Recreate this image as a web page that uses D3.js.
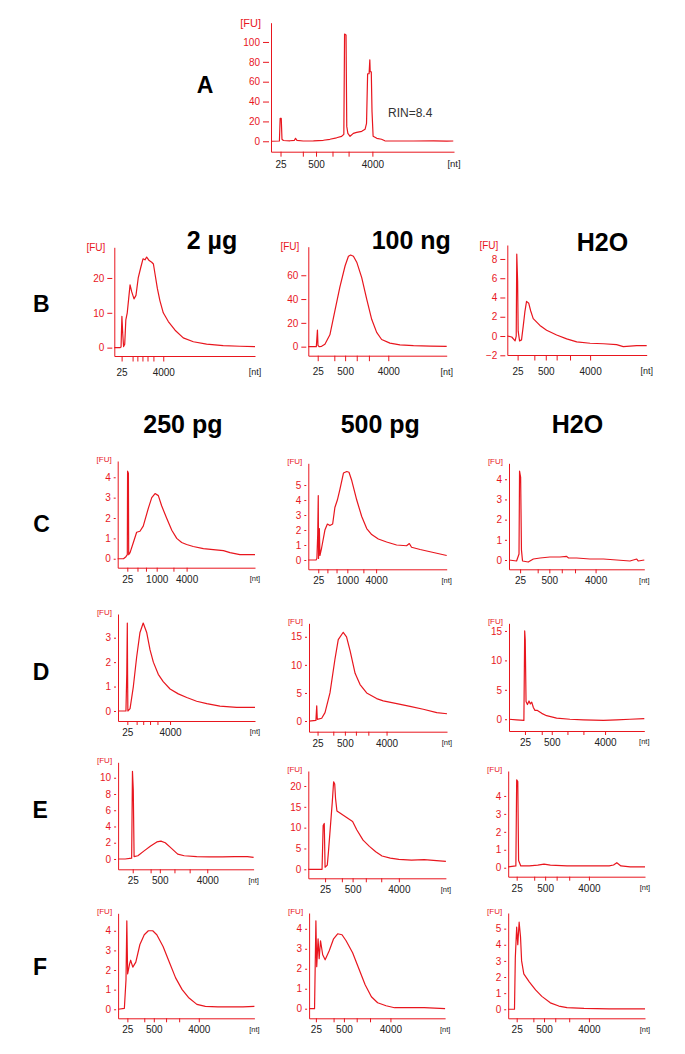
<!DOCTYPE html>
<html>
<head>
<meta charset="utf-8">
<script src="https://cdn.jsdelivr.net/npm/d3@7"></script>
<style>
  body { margin: 0; background: #fff; }
  svg text { font-family: "Liberation Sans", Arial, sans-serif; }
</style>
</head>
<body>
<svg id="figure"></svg>
<script>
// migration time window of every electropherogram (s)
const runTime = [19, 69];

// ladder tick labels (nt)
const labels500 = ["25", "", "500", "", "", "4000"];
const labels1000 = ["25", "", "", "1000", "", "4000"];
const labelsEnds = ["25", "", "", "", "", "4000"];
const labelsEnds7 = ["25", "", "", "", "", "", "4000"];

// ---- A : total RNA
const ladderA = [21.6, 27.7, 31.3, 35.8, 40.2, 46.7];
const fuTicksA = [0, 20, 40, 60, 80, 100];
const fuRangeA = [-10.5, 119.4];
const traceA = [[19.2,0],[21.3,0.3],[21.5,23],[21.8,23],[22.0,2],[22.4,0.8],[24.2,0.5],[25.4,1],[25.7,3],[26.1,1],[27.8,0.3],[30.6,0.5],[33.3,1],[35.1,2],[36.9,3.5],[38.3,5],[38.9,7],[39.1,108],[39.5,107],[39.7,15],[40.0,8],[40.6,5],[41.5,8],[42.4,9],[43.8,10],[44.7,12],[45.1,18],[45.4,68],[45.8,68],[46.0,82],[46.1,70],[46.4,70],[46.6,30],[46.9,5],[47.9,3],[49.2,2],[50.1,0.5],[57.9,0.3],[63.4,0.5],[67.0,0.2],[68.8,0.3]];

// ---- B : 2 µg / 100 ng / H2O
const ladderB1 = [21.6, 25.5, 27.2, 29.0, 30.8, 32.9, 36.4];
const fuTicksB1 = [0, 10, 20];
const fuRangeB1 = [-2.4, 28.8];
const traceB1 = [[19.0,0],[21.0,0],[21.4,0.2],[21.7,9],[22.0,4],[22.3,0.3],[22.7,1],[23.1,8],[23.6,10],[24.1,14],[24.6,18],[25.2,16],[26.0,14],[26.7,15],[27.5,20],[28.4,23],[29.2,25.5],[29.9,25.2],[30.5,26],[31.4,25],[32.3,24.5],[32.9,24],[33.5,21],[34.3,17],[35.2,13.5],[36.4,10],[38.2,7.5],[40.6,5],[43.5,2.8],[47.1,1.7],[51.8,1.0],[57.7,0.6],[63.7,0.4],[69.0,0.3]];

const ladderB2 = [22.4, 28.4, 32.3, 36.5, 40.9, 47.9];
const fuTicksB2 = [0, 20, 40, 60];
const fuRangeB2 = [-7.6, 84];
const traceB2 = [[19.0,0],[21.9,0],[22.3,14],[22.5,1],[22.9,0],[23.8,0.3],[25.0,2],[26.8,10],[28.6,30],[30.4,50],[32.3,68],[33.5,76],[34.3,77],[35.3,76],[36.5,71],[38.3,58],[40.1,40],[41.9,23],[43.7,12],[45.5,6],[48.5,3],[52.1,1.5],[57.0,0.8],[63.0,0.4],[69.0,0.3]];

const ladderB3 = [22.7, 28.7, 32.8, 36.7, 41.5, 48.7];
const fuTicksB3 = [-2, 0, 2, 4, 6, 8];
const fuRangeB3 = [-1.97, 9.45];
const traceB3 = [[19.0,0],[20.6,-0.1],[21.8,-0.5],[22.2,0],[22.4,8.5],[22.7,5.7],[22.9,0.5],[23.4,-0.5],[24.1,-0.4],[24.7,1],[25.3,2.5],[25.9,3.6],[26.7,3.4],[27.4,2.6],[28.3,1.8],[30.7,1.1],[33.1,0.6],[36.7,0.1],[40.3,-0.3],[43.9,-0.6],[48.7,-0.75],[53.5,-0.8],[58.2,-0.9],[60.6,-1.1],[65.4,-1.0],[69.0,-1.0]];

// ---- C : 250 pg / 500 pg / H2O
const ladderC1 = [22.5, 26.2, 29.3, 33.2, 39.3, 44.1];
const fuTicksC1 = [0, 1, 2, 3, 4];
const fuRangeC1 = [-0.44, 4.8];
const traceC1 = [[19.0,0],[21.1,0],[22.0,0.1],[22.5,0.2],[22.6,4.3],[22.9,4.2],[23.0,0.2],[23.5,0.3],[24.7,0.8],[25.9,1.3],[27.1,1.35],[28.3,1.6],[30.2,2.5],[31.4,3.0],[32.6,3.2],[33.8,3.1],[35.0,2.6],[36.8,2.0],[38.7,1.4],[40.5,1.0],[42.3,0.8],[44.1,0.7],[46.5,0.6],[50.2,0.5],[53.8,0.45],[57.5,0.4],[59.9,0.3],[63.5,0.2],[69.0,0.2]];

const ladderC2 = [22.6, 25.9, 29.2, 33.1, 38.9, 43.5];
const fuTicksC2 = [0, 1, 2, 3, 4, 5];
const fuRangeC2 = [-0.62, 6.45];
const traceC2 = [[19.0,0],[21.8,0],[22.1,0.1],[22.4,1.7],[22.6,4.3],[22.7,0.1],[23.0,2.1],[23.2,0.3],[23.8,0.8],[25.0,2.0],[25.9,2.4],[26.8,2.3],[27.8,2.4],[28.6,3.5],[29.5,4.0],[30.4,4.7],[31.7,5.8],[32.9,5.9],[33.7,5.85],[34.7,5.3],[36.5,4.0],[38.3,2.9],[40.1,2.1],[41.9,1.7],[44.3,1.4],[47.3,1.2],[50.9,1.0],[54.5,0.95],[55.5,1.1],[56.3,0.85],[59.4,0.7],[63.0,0.55],[65.4,0.45],[69.0,0.3]];

const ladderC3 = [23.1, 29.6, 33.9, 38.5, 43.4, 51.0];
const fuTicksC3 = [0, 1, 2, 3, 4];
const fuRangeC3 = [-0.46, 4.79];
const traceC3 = [[19.0,0],[21.8,-0.05],[22.7,0.3],[22.9,4.4],[23.3,4.1],[23.6,0.5],[24.0,-0.05],[26.1,-0.1],[28.0,0.05],[30.5,0.1],[34.1,0.15],[37.8,0.15],[40.3,0.18],[41.0,0.1],[44.0,0.1],[48.9,0.05],[53.9,0.05],[58.8,0.0],[63.7,-0.05],[66.2,0.05],[66.8,-0.05],[69.0,0.0]];

// ---- D
const ladderD1 = [22.4, 25.8, 28.2, 30.7, 33.4, 38.0];
const fuTicksD1 = [0, 1, 2, 3];
const fuRangeD1 = [-0.41, 3.97];
const traceD1 = [[19.0,0],[21.9,0],[22.2,1.5],[22.4,3.6],[22.5,1.5],[22.6,0],[23.4,0.1],[24.6,1.0],[25.8,2.2],[27.0,3.2],[28.2,3.6],[29.5,3.2],[30.7,2.5],[31.9,2.0],[33.7,1.5],[35.5,1.2],[38.0,0.9],[41.0,0.7],[44.1,0.55],[47.7,0.4],[51.4,0.3],[56.2,0.2],[62.3,0.15],[69.0,0.15]];

const ladderD2 = [22.1, 27.8, 32.0, 36.0, 40.5, 47.1];
const fuTicksD2 = [0, 5, 10, 15];
const fuRangeD2 = [-1.9, 17.4];
const traceD2 = [[19.0,0],[21.5,0.1],[21.8,2.7],[22.0,0.3],[23.6,0.5],[24.8,1.5],[26.6,5],[28.4,11],[29.6,14.5],[31.4,15.8],[32.6,15],[33.9,12.5],[35.7,8.5],[37.5,6.5],[39.9,5.0],[43.5,4.0],[45.9,3.6],[50.8,3.1],[55.6,2.6],[60.4,2.1],[65.3,1.5],[69.0,1.3]];

const ladderD3 = [24.9, 31.1, 34.8, 40.6, 46.5, 54.5];
const fuTicksD3 = [0, 5, 10, 15];
const fuRangeD3 = [-2.0, 16.3];
const traceD3 = [[19.0,0],[21.8,-0.1],[24.5,-0.2],[24.8,15],[25.0,13.5],[25.3,3],[25.8,2.5],[26.4,3.1],[26.9,2.6],[27.4,2.9],[28.0,2.0],[28.6,1.5],[29.5,1.5],[31.1,1.0],[32.9,0.6],[36.6,0.2],[41.5,0.0],[46.5,-0.1],[53.9,-0.2],[58.8,-0.1],[63.7,0.0],[69.0,0.1]];

// ---- E
const ladderE1 = [24.4, 31.0, 34.4, 39.8, 45.4, 51.9];
const fuTicksE1 = [0, 2, 4, 6, 8, 10];
const fuRangeE1 = [-1.27, 11.9];
const traceE1 = [[19.0,0],[21.6,0],[24.0,0.1],[24.3,10.8],[24.6,8.5],[24.9,0.3],[26.3,0.4],[28.6,1.0],[31.0,1.6],[33.3,2.1],[34.8,2.2],[36.4,2.0],[38.7,1.3],[41.0,0.6],[43.4,0.4],[48.0,0.3],[52.7,0.25],[57.4,0.25],[62.0,0.3],[66.7,0.3],[69.0,0.2]];

const ladderE2 = [25.1, 31.2, 35.1, 39.9, 45.5, 51.9];
const fuTicksE2 = [0, 5, 10, 15, 20];
const fuRangeE2 = [-2.16, 23.6];
const traceE2 = [[19.0,0],[24.0,0],[24.4,10.5],[24.8,11],[25.1,0.5],[25.9,1],[26.3,4],[27.0,10],[27.7,16],[28.2,21],[28.6,20.5],[28.9,17],[29.4,14],[30.5,13.5],[32.8,12.5],[35.1,11.5],[36.6,9.5],[38.9,7],[41.2,5.5],[43.5,4.2],[45.8,3.2],[48.8,2.7],[51.9,2.4],[56.5,2.2],[61.1,2.3],[65.6,2.1],[69.0,1.9]];

const ladderE3 = [22.1, 28.5, 32.5, 36.7, 41.3, 48.5];
const fuTicksE3 = [0, 1, 2, 3, 4];
const fuRangeE3 = [-0.5, 5.39];
const traceE3 = [[19.0,0.05],[21.8,0.1],[22.1,4.9],[22.5,4.8],[22.8,0.4],[23.6,0.1],[26.7,0.1],[29.8,0.15],[32.1,0.2],[34.4,0.15],[40.5,0.1],[48.2,0.1],[55.9,0.1],[57.5,0.15],[58.7,0.28],[60.2,0.1],[63.6,0.05],[69.0,0.05]];

// ---- F
const ladderF1 = [22.4, 28.6, 32.1, 36.6, 41.4, 48.6];
const fuTicksF1 = [0, 1, 2, 3, 4];
const fuRangeF1 = [-0.46, 4.89];
const traceF1 = [[19.0,0],[21.3,0.05],[21.9,1.5],[22.2,4.5],[22.5,1.8],[23.2,2.3],[23.6,2.5],[24.4,2.15],[25.5,2.4],[27.0,3.3],[28.6,3.8],[30.1,4.0],[31.7,4.0],[33.2,3.8],[35.5,3.2],[37.8,2.4],[40.1,1.6],[42.5,1.0],[44.8,0.6],[47.9,0.25],[51.0,0.15],[55.6,0.12],[60.2,0.12],[64.8,0.12],[69.0,0.15]];

const ladderF2 = [21.5, 28.0, 31.8, 36.5, 41.4, 48.9];
const fuTicksF2 = [0, 1, 2, 3, 4];
const fuRangeF2 = [-0.48, 4.79];
const traceF2 = [[19.0,0],[21.0,0],[21.5,4.4],[21.8,2.1],[22.3,3.5],[22.7,2.5],[23.2,3.4],[24.0,2.7],[24.9,2.45],[26.4,2.9],[28.0,3.5],[29.5,3.75],[31.1,3.7],[32.6,3.4],[35.0,2.8],[37.3,2.0],[39.6,1.2],[41.9,0.6],[44.2,0.3],[47.3,0.15],[50.4,0.05],[55.1,0.05],[61.3,0.05],[69.0,0.0]];

const ladderF3 = [22.1, 28.2, 32.1, 36.2, 41.3, 48.5];
const fuTicksF3 = [0, 1, 2, 3, 4, 5];
const fuRangeF3 = [-0.56, 5.97];
const traceF3 = [[19.0,0],[21.3,0],[21.6,3.2],[22.1,5.1],[22.5,4.0],[23.0,5.4],[23.5,4.5],[23.9,3.0],[24.7,2.2],[26.7,1.7],[29.0,1.2],[31.3,0.8],[34.4,0.4],[37.5,0.2],[40.5,0.1],[46.7,0.05],[55.9,0.03],[69.0,0.03]];

const red = "#e8161e";
const font = '"Liberation Sans", Arial, sans-serif';

const sizes = {
  large: { yFont: 10, fuFont: 11, xFont: 9.5, xTick: 5, xPad: 4, fuGap: 12, fuLift: 0 },
  medium: { yFont: 9, fuFont: 10, xFont: 9, xTick: 5.5, xPad: 7, fuGap: 11, fuLift: 0 },
  small: { yFont: 7.5, fuFont: 8, xFont: 7.5, xTick: 4, xPad: 4, fuGap: 8, fuLift: 2 },
};

class Electropherogram {
  constructor(_config, _data) {
    this.config = {
      parentElement: _config.parentElement,
      left: _config.left,
      top: _config.top,
      width: _config.width,
      height: _config.height,
      yDomain: _config.yDomain,
      yTicks: _config.yTicks,
      ladder: _config.ladder,
      ladderLabels: _config.ladderLabels,
      size: sizes[_config.size || "small"],
    };
    this.data = _data;
    this.initVis();
  }

  initVis() {
    let vis = this;
    const s = vis.config.size;

    vis.chart = d3
      .select(vis.config.parentElement)
      .append("g")
      .attr("transform", `translate(${vis.config.left},${vis.config.top})`);

    vis.xScale = d3.scaleLinear().domain(runTime).range([0, vis.config.width]);
    vis.yScale = d3
      .scaleLinear()
      .domain(vis.config.yDomain)
      .range([vis.config.height, 0]);

    // y axis, ticks sit a little off the axis line
    vis.yAxis = d3
      .axisLeft(vis.yScale)
      .tickValues(vis.config.yTicks)
      .tickFormat(d3.format("d"))
      .tickSize(s.fuGap - 4)
      .tickSizeOuter(0)
      .tickPadding(3);

    vis.yAxisGroup = vis.chart
      .append("g")
      .attr("color", red)
      .attr("font-family", font)
      .attr("font-size", s.yFont)
      .call(vis.yAxis);
    vis.yAxisGroup.selectAll(".tick line").attr("x1", -2);

    // x axis with ladder positions
    vis.xAxis = d3
      .axisBottom(vis.xScale)
      .tickValues(vis.config.ladder)
      .tickFormat((d, i) => vis.config.ladderLabels[i])
      .tickSize(s.xTick)
      .tickSizeOuter(0)
      .tickPadding(s.xPad);

    vis.xAxisGroup = vis.chart
      .append("g")
      .attr("transform", `translate(0,${vis.config.height})`)
      .attr("color", red)
      .attr("font-family", font)
      .attr("font-size", s.xFont)
      .call(vis.xAxis);
    vis.xAxisGroup.selectAll(".tick text").attr("fill", "#222");

    vis.chart
      .append("text")
      .attr("x", -s.fuGap + 2)
      .attr("y", -s.fuLift)
      .attr("dy", "0.35em")
      .attr("text-anchor", "end")
      .attr("fill", red)
      .style("font-size", s.fuFont + "px")
      .text("[FU]");

    vis.chart
      .append("text")
      .attr("x", vis.config.width)
      .attr("y", vis.config.height + s.xTick + s.xPad)
      .attr("dy", "0.71em")
      .attr("text-anchor", "middle")
      .attr("fill", "#222")
      .style("font-size", s.xFont + "px")
      .text("[nt]");

    vis.line = d3
      .line()
      .x((d) => vis.xScale(d[0]))
      .y((d) => vis.yScale(d[1]));

    vis.chart
      .append("path")
      .datum(vis.data)
      .attr("fill", "none")
      .attr("stroke", red)
      .attr("stroke-width", 1.2)
      .attr("stroke-linejoin", "round")
      .attr("d", vis.line);
  }
}

const svg = d3.select("#figure").attr("width", 685).attr("height", 1054);

const panels = [
  { trace: traceA, ladder: ladderA, labels: labels500, yTicks: fuTicksA, yDomain: fuRangeA, size: "large", left: 271, top: 22.7, width: 183, height: 129 },
  { trace: traceB1, ladder: ladderB1, labels: labelsEnds7, yTicks: fuTicksB1, yDomain: fuRangeB1, size: "medium", left: 114.3, top: 247.3, width: 140.7, height: 108.7 },
  { trace: traceB2, ladder: ladderB2, labels: labels500, yTicks: fuTicksB2, yDomain: fuRangeB2, size: "medium", left: 308.3, top: 246.7, width: 138.4, height: 109 },
  { trace: traceB3, ladder: ladderB3, labels: labels500, yTicks: fuTicksB3, yDomain: fuRangeB3, size: "medium", left: 507.3, top: 245, width: 139.4, height: 110 },
  { trace: traceC1, ladder: ladderC1, labels: labels1000, yTicks: fuTicksC1, yDomain: fuRangeC1, left: 117.7, top: 461, width: 137.3, height: 106.7 },
  { trace: traceC2, ladder: ladderC2, labels: labels1000, yTicks: fuTicksC2, yDomain: fuRangeC2, left: 308.3, top: 463.3, width: 138.4, height: 106 },
  { trace: traceC3, ladder: ladderC3, labels: labels500, yTicks: fuTicksC3, yDomain: fuRangeC3, left: 509, top: 463.3, width: 135.3, height: 106 },
  { trace: traceD1, ladder: ladderD1, labels: labelsEnds, yTicks: fuTicksD1, yDomain: fuRangeD1, left: 118, top: 614, width: 137, height: 107 },
  { trace: traceD2, ladder: ladderD2, labels: labels500, yTicks: fuTicksD2, yDomain: fuRangeD2, left: 309, top: 623.3, width: 138, height: 108.4 },
  { trace: traceD3, ladder: ladderD3, labels: labels500, yTicks: fuTicksD3, yDomain: fuRangeD3, left: 509, top: 623.3, width: 135.3, height: 107.7 },
  { trace: traceE1, ladder: ladderE1, labels: labels500, yTicks: fuTicksE1, yDomain: fuRangeE1, left: 118.1, top: 762.3, width: 135.5, height: 107 },
  { trace: traceE2, ladder: ladderE2, labels: labels500, yTicks: fuTicksE2, yDomain: fuRangeE2, left: 308.3, top: 771, width: 137.6, height: 107.3 },
  { trace: traceE3, ladder: ladderE3, labels: labels500, yTicks: fuTicksE3, yDomain: fuRangeE3, left: 508.2, top: 771, width: 136.8, height: 105.7 },
  { trace: traceF1, ladder: ladderF1, labels: labels500, yTicks: fuTicksF1, yDomain: fuRangeF1, left: 118.1, top: 913.3, width: 136.3, height: 105 },
  { trace: traceF2, ladder: ladderF2, labels: labels500, yTicks: fuTicksF2, yDomain: fuRangeF2, left: 309.1, top: 913, width: 136, height: 105.3 },
  { trace: traceF3, ladder: ladderF3, labels: labels500, yTicks: fuTicksF3, yDomain: fuRangeF3, left: 508.2, top: 913, width: 136.8, height: 105.3 },
];

panels.forEach((p) => {
  new Electropherogram(
    {
      parentElement: "#figure",
      left: p.left,
      top: p.top,
      width: p.width,
      height: p.height,
      yDomain: p.yDomain,
      yTicks: p.yTicks,
      ladder: p.ladder,
      ladderLabels: p.labels,
      size: p.size,
    },
    p.trace,
  );
});

// RIN value for panel A
svg
  .append("text")
  .attr("x", 388)
  .attr("y", 117)
  .attr("fill", "#333")
  .style("font-size", "12px")
  .text("RIN=8.4");

// row letters and column headings
const headings = [
  { text: "A", x: 196.7, y: 92.7, size: 23 },
  { text: "B", x: 33, y: 311.7, size: 23 },
  { text: "C", x: 33.3, y: 531.7, size: 23 },
  { text: "D", x: 32.7, y: 680, size: 23 },
  { text: "E", x: 32.6, y: 818, size: 23 },
  { text: "F", x: 33, y: 975, size: 23 },
  { text: "2 µg", x: 186.7, y: 249, size: 25 },
  { text: "100 ng", x: 371.7, y: 249, size: 25 },
  { text: "H2O", x: 576.7, y: 251, size: 25 },
  { text: "250 pg", x: 143.3, y: 433, size: 25 },
  { text: "500 pg", x: 340.7, y: 433, size: 25 },
  { text: "H2O", x: 551.7, y: 433, size: 25 },
];

svg
  .selectAll(".heading")
  .data(headings)
  .join("text")
  .attr("class", "heading")
  .attr("x", (d) => d.x)
  .attr("y", (d) => d.y)
  .attr("fill", "#000")
  .style("font-weight", "bold")
  .style("font-size", (d) => d.size + "px")
  .text((d) => d.text);
</script>
</body>
</html>
